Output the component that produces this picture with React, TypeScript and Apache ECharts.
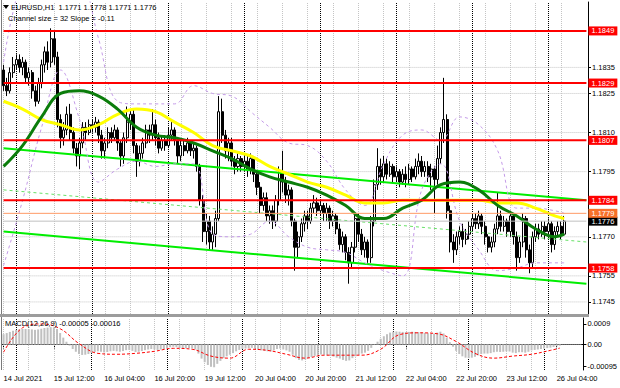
import React, { useEffect, useRef } from "react";
import * as echarts from "echarts";

// ---------- DATA ----------
const symbolName = "EURUSD,H1";
const channelText = "Channel size = 32 Slope = -0.11";
const macdName = "MACD(12,26,9)";

const barSlots = 185; // hourly slots incl. empty right margin

// [open, close, low, high] per H1 bar, 14 Jul 20:00 .. 26 Jul 05:00
const candles: number[][] = [
  [1.1834, 1.1828, 1.1826, 1.1836], [1.1828, 1.1826, 1.1824, 1.1831], [1.1826, 1.1833, 1.1825, 1.1835], [1.1833, 1.1836, 1.1831, 1.1839],
  [1.1836, 1.1838, 1.1834, 1.1840], [1.1838, 1.1835, 1.1833, 1.1840], [1.1835, 1.1837, 1.1832, 1.1839], [1.1837, 1.1831, 1.1829, 1.1838],
  [1.1831, 1.1833, 1.1828, 1.1835], [1.1833, 1.1826, 1.1823, 1.1834], [1.1826, 1.1822, 1.1820, 1.1828], [1.1822, 1.1829, 1.1821, 1.1831],
  [1.1829, 1.1836, 1.1827, 1.1838], [1.1836, 1.1841, 1.1833, 1.1843], [1.1841, 1.1837, 1.1834, 1.1845], [1.1837, 1.1846, 1.1835, 1.1850],
  [1.1846, 1.1839, 1.1836, 1.1849], [1.1839, 1.1815, 1.1812, 1.1841], [1.1815, 1.1808, 1.1804, 1.1817], [1.1808, 1.1811, 1.1805, 1.1814],
  [1.1811, 1.1817, 1.1809, 1.1820], [1.1817, 1.1810, 1.1807, 1.1821], [1.1810, 1.1804, 1.1802, 1.1812], [1.1804, 1.1801, 1.1797, 1.1806],
  [1.1801, 1.1806, 1.1796, 1.1808], [1.1806, 1.1812, 1.1804, 1.1814], [1.1812, 1.1810, 1.1807, 1.1814], [1.1810, 1.1813, 1.1809, 1.1815],
  [1.1813, 1.1812, 1.1810, 1.1815], [1.1812, 1.1814, 1.1810, 1.1816], [1.1814, 1.1809, 1.1806, 1.1815], [1.1809, 1.1803, 1.1800, 1.1811],
  [1.1803, 1.1806, 1.1800, 1.1808], [1.1806, 1.1810, 1.1804, 1.1812], [1.1810, 1.1808, 1.1806, 1.1812], [1.1808, 1.1811, 1.1807, 1.1813],
  [1.1811, 1.1806, 1.1803, 1.1812], [1.1806, 1.1801, 1.1797, 1.1807], [1.1801, 1.1808, 1.1798, 1.1810], [1.1808, 1.1814, 1.1806, 1.1820],
  [1.1814, 1.1817, 1.1811, 1.1819], [1.1817, 1.1805, 1.1802, 1.1819], [1.1805, 1.1799, 1.1793, 1.1806], [1.1799, 1.1802, 1.1797, 1.1805],
  [1.1802, 1.1806, 1.1800, 1.1808], [1.1806, 1.1811, 1.1804, 1.1813], [1.1811, 1.1809, 1.1806, 1.1813], [1.1809, 1.1813, 1.1807, 1.1819],
  [1.1813, 1.1808, 1.1805, 1.1815], [1.1808, 1.1804, 1.1802, 1.1810], [1.1804, 1.1807, 1.1803, 1.1809], [1.1807, 1.1805, 1.1803, 1.1809],
  [1.1805, 1.1809, 1.1804, 1.1812], [1.1809, 1.1811, 1.1807, 1.1814], [1.1811, 1.1807, 1.1805, 1.1812], [1.1807, 1.1801, 1.1798, 1.1808],
  [1.1801, 1.1805, 1.1799, 1.1807], [1.1805, 1.1803, 1.1801, 1.1807], [1.1803, 1.1806, 1.1802, 1.1808], [1.1806, 1.1803, 1.1801, 1.1807],
  [1.1803, 1.1804, 1.1800, 1.1806], [1.1804, 1.1797, 1.1795, 1.1805], [1.1797, 1.1784, 1.1782, 1.1798], [1.1784, 1.1772, 1.1768, 1.1786],
  [1.1772, 1.1776, 1.1767, 1.1779], [1.1776, 1.1768, 1.1765, 1.1778], [1.1768, 1.1771, 1.1765, 1.1774], [1.1771, 1.1777, 1.1766, 1.1780],
  [1.1777, 1.1818, 1.1776, 1.1824], [1.1818, 1.1809, 1.1806, 1.1823], [1.1809, 1.1803, 1.1800, 1.1811], [1.1803, 1.1806, 1.1799, 1.1808],
  [1.1806, 1.1799, 1.1797, 1.1808], [1.1799, 1.1797, 1.1794, 1.1801], [1.1797, 1.1800, 1.1795, 1.1802], [1.1800, 1.1797, 1.1795, 1.1801],
  [1.1797, 1.1799, 1.1795, 1.1801], [1.1799, 1.1796, 1.1793, 1.1801], [1.1796, 1.1800, 1.1794, 1.1802], [1.1800, 1.1794, 1.1791, 1.1801],
  [1.1794, 1.1789, 1.1786, 1.1795], [1.1789, 1.1782, 1.1779, 1.1791], [1.1782, 1.1785, 1.1780, 1.1787], [1.1785, 1.1778, 1.1776, 1.1787],
  [1.1778, 1.1780, 1.1775, 1.1782], [1.1780, 1.1776, 1.1773, 1.1782], [1.1776, 1.1784, 1.1774, 1.1786], [1.1784, 1.1795, 1.1782, 1.1797],
  [1.1795, 1.1791, 1.1787, 1.1803], [1.1791, 1.1786, 1.1783, 1.1793], [1.1786, 1.1788, 1.1782, 1.1790], [1.1788, 1.1776, 1.1774, 1.1789],
  [1.1776, 1.1766, 1.1757, 1.1777], [1.1766, 1.1770, 1.1762, 1.1772], [1.1770, 1.1775, 1.1768, 1.1777], [1.1775, 1.1778, 1.1772, 1.1780],
  [1.1778, 1.1776, 1.1773, 1.1780], [1.1776, 1.1781, 1.1775, 1.1783], [1.1781, 1.1783, 1.1779, 1.1786], [1.1783, 1.1780, 1.1778, 1.1785],
  [1.1780, 1.1782, 1.1778, 1.1784], [1.1782, 1.1779, 1.1776, 1.1783], [1.1779, 1.1781, 1.1776, 1.1783], [1.1781, 1.1776, 1.1773, 1.1782],
  [1.1776, 1.1778, 1.1774, 1.1780], [1.1778, 1.1773, 1.1771, 1.1779], [1.1773, 1.1767, 1.1765, 1.1775], [1.1767, 1.1770, 1.1764, 1.1772],
  [1.1770, 1.1764, 1.1761, 1.1771], [1.1764, 1.1760, 1.1752, 1.1766], [1.1760, 1.1766, 1.1758, 1.1768], [1.1766, 1.1777, 1.1764, 1.1779],
  [1.1777, 1.1771, 1.1768, 1.1779], [1.1771, 1.1765, 1.1763, 1.1773], [1.1765, 1.1768, 1.1762, 1.1770], [1.1768, 1.1762, 1.1760, 1.1769],
  [1.1762, 1.1776, 1.1760, 1.1778], [1.1776, 1.1790, 1.1774, 1.1792], [1.1790, 1.1797, 1.1788, 1.1804], [1.1797, 1.1793, 1.1790, 1.1800],
  [1.1793, 1.1798, 1.1791, 1.1801], [1.1798, 1.1794, 1.1792, 1.1800], [1.1794, 1.1797, 1.1793, 1.1799], [1.1797, 1.1793, 1.1791, 1.1798],
  [1.1793, 1.1795, 1.1791, 1.1797], [1.1795, 1.1791, 1.1789, 1.1796], [1.1791, 1.1794, 1.1790, 1.1796], [1.1794, 1.1792, 1.1789, 1.1797],
  [1.1792, 1.1796, 1.1790, 1.1798], [1.1796, 1.1793, 1.1791, 1.1797], [1.1793, 1.1797, 1.1792, 1.1800], [1.1797, 1.1799, 1.1794, 1.1802],
  [1.1799, 1.1795, 1.1793, 1.1801], [1.1795, 1.1797, 1.1793, 1.1799], [1.1797, 1.1793, 1.1791, 1.1799], [1.1793, 1.1796, 1.1788, 1.1798],
  [1.1796, 1.1792, 1.1779, 1.1797], [1.1792, 1.1800, 1.1790, 1.1805], [1.1800, 1.1810, 1.1798, 1.1812], [1.1810, 1.1815, 1.1806, 1.1831],
  [1.1815, 1.1780, 1.1777, 1.1817], [1.1780, 1.1768, 1.1764, 1.1782], [1.1768, 1.1765, 1.1760, 1.1771], [1.1765, 1.1770, 1.1763, 1.1772],
  [1.1770, 1.1772, 1.1767, 1.1774], [1.1772, 1.1769, 1.1766, 1.1775], [1.1769, 1.1771, 1.1767, 1.1773], [1.1771, 1.1774, 1.1769, 1.1776],
  [1.1774, 1.1777, 1.1772, 1.1779], [1.1777, 1.1775, 1.1773, 1.1779], [1.1775, 1.1778, 1.1773, 1.1780], [1.1778, 1.1774, 1.1771, 1.1779],
  [1.1774, 1.1770, 1.1767, 1.1776], [1.1770, 1.1766, 1.1764, 1.1771], [1.1766, 1.1768, 1.1764, 1.1770], [1.1768, 1.1773, 1.1766, 1.1775],
  [1.1773, 1.1778, 1.1771, 1.1787], [1.1778, 1.1774, 1.1772, 1.1780], [1.1774, 1.1776, 1.1772, 1.1778], [1.1776, 1.1772, 1.1770, 1.1777],
  [1.1772, 1.1778, 1.1770, 1.1780], [1.1778, 1.1770, 1.1767, 1.1779], [1.1770, 1.1762, 1.1757, 1.1772], [1.1762, 1.1768, 1.1760, 1.1770],
  [1.1768, 1.1777, 1.1766, 1.1779], [1.1777, 1.1765, 1.1762, 1.1778], [1.1765, 1.1760, 1.1756, 1.1767], [1.1760, 1.1770, 1.1758, 1.1772],
  [1.1770, 1.1773, 1.1768, 1.1775], [1.1773, 1.1771, 1.1769, 1.1775], [1.1771, 1.1774, 1.1770, 1.1776], [1.1774, 1.1772, 1.1769, 1.1776],
  [1.1772, 1.1775, 1.1770, 1.1777], [1.1775, 1.1767, 1.1764, 1.1776], [1.1767, 1.1772, 1.1765, 1.1774], [1.1772, 1.1774, 1.1770, 1.1776],
  [1.1774, 1.1771, 1.1769, 1.1776], [1.1771, 1.1776, 1.1771, 1.1778],
];

// indicator samples (bar index -> value)
const sampleBars = [0, 6, 12, 18, 24, 30, 36, 42, 48, 54, 60, 66, 72, 78, 84, 90, 96, 102, 108, 114, 120, 126, 132, 138, 144, 150, 156, 162, 168, 174, 177];
const yellowMa = [1.1822, 1.1819, 1.1815, 1.1813, 1.1811, 1.1813, 1.1817, 1.1819, 1.1818, 1.1814, 1.1810, 1.1805, 1.1803, 1.1801, 1.1797, 1.1794, 1.1791, 1.1789, 1.1786, 1.1783, 1.1783, 1.1784, 1.1784, 1.1784, 1.1784, 1.1784, 1.1783, 1.1783, 1.1781, 1.1778, 1.1777];
const greenMa = [1.1797, 1.1805, 1.1816, 1.1825, 1.1826, 1.1824, 1.1819, 1.1812, 1.1809, 1.1808, 1.1806, 1.1803, 1.1800, 1.1796, 1.1793, 1.1791, 1.1789, 1.1786, 1.1782, 1.1777, 1.1777, 1.1781, 1.1784, 1.1790, 1.1791, 1.1788, 1.1782, 1.1778, 1.1773, 1.1770, 1.1771];
const upperBand = [1.1837, 1.1869, 1.1876, 1.1876, 1.1872, 1.1846, 1.1822, 1.1821, 1.1821, 1.1821, 1.1828, 1.1825, 1.1824, 1.1818, 1.1812, 1.1806, 1.1805, 1.1799, 1.1788, 1.1782, 1.1798, 1.1809, 1.1811, 1.1807, 1.1816, 1.1813, 1.1803, 1.1781, 1.1781, 1.1780, 1.1779];
const lowerBand = [1.1759, 1.1784, 1.1812, 1.1834, 1.1815, 1.1791, 1.1796, 1.1799, 1.1797, 1.1798, 1.1798, 1.1771, 1.1770, 1.1771, 1.1776, 1.1770, 1.1766, 1.1765, 1.1764, 1.1760, 1.1757, 1.1755, 1.1788, 1.1798, 1.1776, 1.1765, 1.1757, 1.1758, 1.1760, 1.1760, 1.1760];
const macdSignal = [-0.00034, 0.00073, 0.0009, 0.00069, 0.00004, -0.00039, -0.00043, -0.00039, -0.0003, -0.00017, -0.00021, -0.00051, -0.0006, -0.00021, -0.00026, -0.00043, -0.0006, -0.00047, -0.00047, -0.00047, -0.00021, 0.00043, 0.00051, 0.00047, 0.00013, -0.00039, -0.0006, -0.00051, -0.00043, -0.00026, -0.00016];

const macdHist = [
  0.00045, 0.0005, 0.00055, 0.0006,
  0.00064, 0.00066, 0.00068, 0.00068, 0.00067, 0.00066, 0.00064, 0.00066, 0.00069, 0.00072, 0.00074, 0.00076, 0.00075, 0.00068, 0.0005,
  0.0003, 0.00012, -0.00005,
  -0.0002, -0.00032, -0.00042, -0.00046, -0.00045, -0.00042, -0.00038,
  -0.00033, -0.0003, -0.00032, -0.00035, -0.00033, -0.0003, -0.00028, -0.0003, -0.00032, -0.00029, -0.00025, -0.00024, -0.00028, -0.00033, -0.00032, -0.00029, -0.00025, -0.00022, -0.0002, -0.00022, -0.00024, -0.00022,
  -0.0002, -0.00016, -0.00012, -0.0001, -0.00012, -0.00016, -0.00018, -0.00017, -0.00016, -0.00017, -0.00022,
  -0.0004, -0.00062, -0.00078, -0.0009, -0.00098, -0.001, -0.00085,
  -0.00072, -0.0006, -0.00052, -0.00045, -0.00038, -0.0003, -0.00024,
  -0.0002, -0.00018, -0.00016, -0.00015, -0.00018, -0.00022, -0.00026, -0.00028, -0.0003, -0.00031, -0.00026, -0.0002, -0.00018, -0.00022, -0.00026, -0.00032,
  -0.00045, -0.0006, -0.00068, -0.0007, -0.00066, -0.0006,
  -0.00055, -0.0005, -0.00046, -0.00044, -0.00045, -0.00048, -0.0005, -0.00053, -0.00058, -0.00062, -0.00068, -0.00072, -0.0007,
  -0.0006, -0.00052, -0.00046, -0.0004, -0.00036, -0.00028, -0.00015, -0.00002,
  0.00012, 0.00025, 0.00036, 0.00045, 0.00052, 0.00056,
  0.00057, 0.00056, 0.00055, 0.00054, 0.00055, 0.00056, 0.00055, 0.00054, 0.00053, 0.00051, 0.00049, 0.00046, 0.00048, 0.00052, 0.00056, 0.00048, 0.0003,
  0.0001, -0.0001, -0.00028, -0.00042, -0.00052,
  -0.00058, -0.0006, -0.00058, -0.00054, -0.00048,
  -0.00042, -0.0004, -0.0004, -0.00038, -0.00034, -0.00032, -0.00033, -0.00032, -0.0003, -0.00031, -0.00036, -0.00038, -0.00034, -0.00034, -0.00036, -0.00032, -0.00026, -0.00024, -0.00022, -0.0002, -0.00018,
  -0.00016, -0.00014, -0.00011, -0.00008, -0.00005,
];

const spanBars = [0, 184]; // first and last slot, used for full-width lines
const channelUpper = [1.1804, 1.1784];
const channelMid = [1.1788, 1.1768];
const channelLower = [1.1772, 1.1752];

const redLevels = [1.1849, 1.1829, 1.1807, 1.1784, 1.1758];
const orangeLevel = 1.1779;
const lastPrice = 1.1776;
const priceTicks = [1.1835, 1.1825, 1.181, 1.1795, 1.177, 1.1755, 1.1745];
const priceMin = 1.17396;
const priceMax = 1.18601;
const macdMin = -0.00112;
const macdMax = 0.00116;
const macdTicks = [0.0009, 0, -0.00095];
const macdTickLabels = ["0.0009", "0.00", "-0.00095"];

const tickBars = [0, 16, 32, 48, 64, 80, 96, 112, 128, 144, 160, 176];
const tickLabels = ["14 Jul 2021", "15 Jul 12:00", "16 Jul 04:00", "16 Jul 20:00", "19 Jul 12:00", "20 Jul 04:00", "20 Jul 20:00", "21 Jul 12:00", "22 Jul 04:00", "22 Jul 20:00", "23 Jul 12:00", "26 Jul 04:00"];
const daySeparatorBars = [4, 28, 52, 76, 100, 124, 148, 172];
const gridBars = [0, 8, 16, 24, 32, 40, 48, 56, 64, 72, 80, 88, 96, 104, 112, 120, 128, 136, 144, 152, 160, 168, 176];

// ---------- STYLE ----------
const FONT = "'Liberation Sans', Arial, sans-serif";
const FS = 7.5;

function buildOption() {
  const categories = Array.from({ length: barSlots }, (_, i) => String(i));
  const pairs = (vals: number[]) => vals.map((v, k) => [sampleBars[k], v]);
  const flat = (v: number) => spanBars.map((b) => [b, v]);
  const last = candles[candles.length - 1];
  const f4 = (v: number) => v.toFixed(4);

  const gridDotted = { type: "dotted" as const, color: "#c4c4c4", width: 1 };
  const sepStyle = { type: "dotted" as const, color: "#000000", width: 1 };

  const vLines = () =>
    [
      ...gridBars.map((b) => ({ xAxis: b, lineStyle: gridDotted })),
      ...daySeparatorBars.map((b) => ({ xAxis: b, lineStyle: sepStyle })),
    ].map((d) => ({ ...d, label: { show: false } }));

  const levelSeries = (v: number, color: string, width: number, boxColor: string, z: number) => ({
    type: "line",
    xAxisIndex: 0,
    yAxisIndex: 0,
    data: flat(v),
    symbol: "none",
    silent: true,
    z,
    lineStyle: { color, width, type: "solid" },
    endLabel: {
      show: true,
      formatter: f4(v),
      distance: 2,
      color: "#ffffff",
      backgroundColor: boxColor,
      padding: [1, 3, 0, 3],
      fontSize: FS,
      fontFamily: FONT,
    },
  });

  const macdLabel = (v: number) => {
    let best = 0;
    macdTicks.forEach((t, k) => {
      if (Math.abs(t - v) < Math.abs(macdTicks[best] - v)) best = k;
    });
    return macdTickLabels[best];
  };

  return {
    animation: false,
    backgroundColor: "#ffffff",
    textStyle: { fontFamily: FONT },
    grid: [
      { left: 2, top: 2, width: 586, height: 314, show: false },
      { left: 2, top: 318, width: 586, height: 52, show: false },
    ],
    xAxis: [
      { type: "category", gridIndex: 0, data: categories, boundaryGap: true, show: false },
      {
        type: "category",
        gridIndex: 1,
        data: categories,
        boundaryGap: true,
        axisLine: { show: true, lineStyle: { color: "#000000", width: 1 } },
        axisTick: {
          show: true,
          alignWithLabel: true,
          interval: (i: number) => tickBars.includes(i),
          length: 4,
          lineStyle: { color: "#000000" },
        },
        axisLabel: {
          show: true,
          interval: (i: number) => tickBars.includes(i),
          formatter: (_v: string, i: number) => {
            const k = tickBars.indexOf(i);
            return k >= 0 ? tickLabels[k] : "";
          },
          align: "left",
          fontSize: FS,
          color: "#000000",
          margin: 4,
          fontFamily: FONT,
        },
        splitLine: { show: false },
      },
    ],
    yAxis: [
      {
        type: "value",
        gridIndex: 0,
        position: "right",
        min: priceMin,
        max: priceMax,
        axisLine: { show: true, lineStyle: { color: "#000000", width: 1 } },
        axisTick: { show: true, customValues: priceTicks, length: 3, lineStyle: { color: "#000000" } },
        axisLabel: {
          show: true,
          customValues: priceTicks,
          formatter: (v: number) => f4(v),
          fontSize: FS,
          color: "#000000",
          margin: 4,
          fontFamily: FONT,
        },
        splitLine: { show: false },
      },
      {
        type: "value",
        gridIndex: 1,
        position: "right",
        min: macdMin,
        max: macdMax,
        axisLine: { show: true, lineStyle: { color: "#000000", width: 1 } },
        axisTick: { show: true, customValues: macdTicks, length: 3, lineStyle: { color: "#000000" } },
        axisLabel: {
          show: true,
          customValues: macdTicks,
          formatter: (v: number) => macdLabel(v),
          fontSize: FS,
          color: "#000000",
          margin: 4,
          fontFamily: FONT,
        },
        splitLine: { show: false },
      },
    ],
    series: [
      // horizontal dotted grid (main)
      ...priceTicks.map((v) => ({
        type: "line",
        xAxisIndex: 0,
        yAxisIndex: 0,
        data: flat(v),
        symbol: "none",
        silent: true,
        z: 1,
        lineStyle: gridDotted,
      })),
      {
        name: "EURUSD",
        type: "candlestick",
        xAxisIndex: 0,
        yAxisIndex: 0,
        data: candles,
        barWidth: "80%",
        z: 2,
        itemStyle: {
          color: "#ffffff",
          color0: "#000000",
          borderColor: "#000000",
          borderColor0: "#000000",
          borderWidth: 1,
        },
        markLine: {
          silent: true,
          z: 1,
          symbol: ["none", "none"],
          label: { show: false },
          data: vLines(),
        },
      },
      {
        name: "channel-upper",
        type: "line",
        data: spanBars.map((b, k) => [b, channelUpper[k]]),
        symbol: "none",
        z: 3,
        lineStyle: { color: "#00ee00", width: 2 },
      },
      {
        name: "channel-lower",
        type: "line",
        data: spanBars.map((b, k) => [b, channelLower[k]]),
        symbol: "none",
        z: 3,
        lineStyle: { color: "#00ee00", width: 2 },
      },
      {
        name: "channel-mid",
        type: "line",
        data: spanBars.map((b, k) => [b, channelMid[k]]),
        symbol: "none",
        z: 3,
        lineStyle: { color: "#66e066", width: 1, type: [3, 3] },
      },
      {
        name: "band-upper",
        type: "line",
        data: pairs(upperBand),
        smooth: 0.4,
        symbol: "none",
        z: 3,
        lineStyle: { color: "#c49be8", width: 1, type: [3, 3] },
      },
      {
        name: "band-lower",
        type: "line",
        data: pairs(lowerBand),
        smooth: 0.4,
        symbol: "none",
        z: 3,
        lineStyle: { color: "#c49be8", width: 1, type: [3, 3] },
      },
      {
        name: "ma-yellow",
        type: "line",
        data: pairs(yellowMa),
        smooth: 0.4,
        symbol: "none",
        z: 4,
        lineStyle: { color: "#ffff00", width: 3 },
      },
      {
        name: "ma-green",
        type: "line",
        data: pairs(greenMa),
        smooth: 0.4,
        symbol: "none",
        z: 4,
        lineStyle: { color: "#0b7d0b", width: 3 },
      },
      levelSeries(lastPrice, "#c0c0c0", 1, "#000000", 5),
      levelSeries(orangeLevel, "#ff9a66", 1, "#f7702a", 5),
      ...redLevels.map((v) => levelSeries(v, "#ff0000", 2, "#ff0000", 6)),
      // MACD panel
      {
        type: "line",
        xAxisIndex: 1,
        yAxisIndex: 1,
        data: flat(0),
        symbol: "none",
        silent: true,
        z: 1,
        lineStyle: gridDotted,
      },
      {
        name: "MACD",
        type: "bar",
        xAxisIndex: 1,
        yAxisIndex: 1,
        data: macdHist,
        barWidth: 2,
        z: 2,
        itemStyle: { color: "#c0c0c0" },
        markLine: {
          silent: true,
          z: 1,
          symbol: ["none", "none"],
          label: { show: false },
          data: vLines(),
        },
      },
      {
        name: "Signal",
        type: "line",
        xAxisIndex: 1,
        yAxisIndex: 1,
        data: pairs(macdSignal),
        smooth: 0.4,
        symbol: "none",
        z: 3,
        lineStyle: { color: "#ff0000", width: 1, type: [3, 2] },
      },
    ],
    graphic: [
      { type: "line", shape: { x1: 1.5, y1: 0, x2: 1.5, y2: 370 }, style: { stroke: "#7a7a7a", lineWidth: 1 }, z: 10 },
      { type: "rect", shape: { x: 0, y: 314, width: 589, height: 3 }, style: { fill: "#9c9c9c" }, z: 10 },
      { type: "polygon", shape: { points: [[3, 5], [9, 5], [6, 9]] }, style: { fill: "#000000" }, z: 10 },
      {
        type: "text",
        x: 11,
        y: 3,
        z: 10,
        style: {
          text: `${symbolName}  ${f4(last[0])} ${f4(last[3])} ${f4(last[2])} ${f4(last[1])}`,
          fill: "#000000",
          fontSize: FS,
          fontFamily: FONT,
        },
      },
      {
        type: "text",
        x: 8,
        y: 14,
        z: 10,
        style: { text: channelText, fill: "#000000", fontSize: FS, fontFamily: FONT },
      },
      {
        type: "text",
        x: 5,
        y: 319,
        z: 10,
        style: {
          text: `${macdName} ${macdHist[macdHist.length - 1].toFixed(5)} ${macdSignal[macdSignal.length - 1].toFixed(5)}`,
          fill: "#000000",
          fontSize: FS,
          fontFamily: FONT,
        },
      },
    ],
  };
}

export default function App() {
  const ref = useRef<HTMLDivElement>(null);
  useEffect(() => {
    if (!ref.current) return;
    const chart = echarts.init(ref.current, undefined, { renderer: "svg" });
    chart.setOption(buildOption() as any);
    return () => chart.dispose();
  }, []);
  return (
    <div
      ref={ref}
      style={{ position: "fixed", left: 0, top: 0, width: 620, height: 388, background: "#ffffff" }}
    />
  );
}
